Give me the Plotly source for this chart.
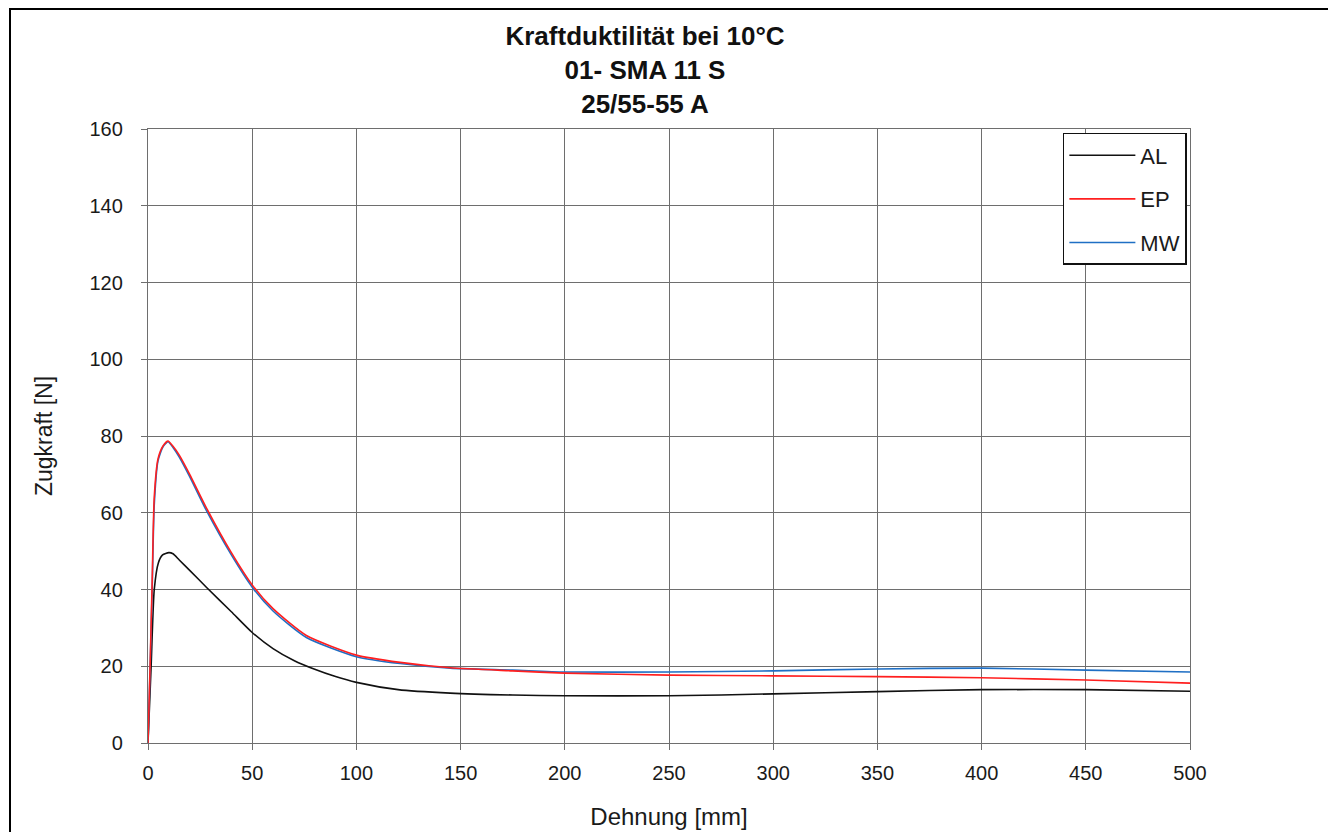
import plotly.graph_objects as go

# Dehnung [mm]
x_al = [0, 1.5, 3, 5, 7, 10, 12, 15, 20, 28, 40, 50, 60, 70, 80, 90, 100, 120, 145, 175, 200, 250, 300, 350, 400, 450, 500]
y_al = [0, 20, 40, 47, 49, 49.6, 49.3, 47.7, 45, 40.6, 34.2, 28.8, 24.6, 21.5, 19.2, 17.3, 15.8, 13.9, 13.0, 12.5, 12.3, 12.3, 12.8, 13.4, 13.9, 13.9, 13.5]

x_up = [0, 1, 2, 3, 4.8, 7.2, 9.6, 12, 15, 20, 28, 40, 50, 60, 76, 100, 121, 145, 175, 200, 250, 300, 350, 400, 450, 500]
y_ep = [0, 20, 42, 64, 74, 77.4, 78.7, 77.3, 75.0, 70.0, 61.3, 49.6, 41.2, 35.0, 28.0, 22.9, 21.0, 19.6, 18.8, 18.2, 17.7, 17.5, 17.3, 17.0, 16.4, 15.6]
y_mw = [0, 19, 40, 62, 73.5, 77.2, 78.5, 77.0, 74.5, 69.4, 60.6, 49.0, 40.6, 34.4, 27.5, 22.5, 20.7, 19.5, 19.0, 18.5, 18.5, 18.8, 19.3, 19.5, 19.0, 18.5]

x_ticks = [0, 50, 100, 150, 200, 250, 300, 350, 400, 450, 500]
y_ticks = [0, 20, 40, 60, 80, 100, 120, 140, 160]

FONT = "Liberation Sans, Arial, sans-serif"
GRID = "#6e6e6e"

fig = go.Figure()
fig.add_trace(go.Scatter(x=x_al, y=y_al, name="AL", mode="lines", legendgroup="a", legendrank=1,
                         line=dict(color="#111111", width=1.6, shape="spline", smoothing=0.6)))
fig.add_trace(go.Scatter(x=x_up, y=y_mw, name="MW", mode="lines", legendgroup="c", legendrank=3,
                         line=dict(color="#1f6fc4", width=1.6, shape="spline", smoothing=0.6)))
fig.add_trace(go.Scatter(x=x_up, y=y_ep, name="EP", mode="lines", legendgroup="b", legendrank=2,
                         line=dict(color="#ff1f1f", width=1.6, shape="spline", smoothing=0.6)))

W, H = 1328, 824
L, T = 140, 121
PW, PH = 1042, 614

fig.update_layout(
    width=W, height=H,
    margin=dict(l=L, r=W - L - PW, t=T, b=H - T - PH),
    paper_bgcolor="white", plot_bgcolor="white",
    font=dict(family=FONT, color="#1a1a1a"),
    title=dict(text="<b>Kraftduktilität bei 10°C<br>01- SMA 11 S<br>25/55-55 A</b>",
               x=0.477, xref="paper", xanchor="center",
               y=1 - 37 / H, yref="container", yanchor="top",
               font=dict(family=FONT, size=26, color="#111111")),
    legend=dict(x=0.997, y=0.9935, xanchor="right", yanchor="top",
                bgcolor="white", bordercolor="#111111", borderwidth=1.5,
                font=dict(family=FONT, size=22, color="#1a1a1a"),
                tracegroupgap=12, traceorder="grouped", itemwidth=66),
    showlegend=True,
)

fig.update_xaxes(range=[0, 500], tickvals=x_ticks, ticktext=[str(v) for v in x_ticks],
                 showgrid=True, gridcolor=GRID, gridwidth=1.4,
                 showline=True, linecolor=GRID, linewidth=1.4, mirror=True,
                 ticks="outside", ticklen=6, tickcolor=GRID, zeroline=False,
                 ticklabelstandoff=6, automargin=False,
                 tickfont=dict(family=FONT, size=20, color="#1a1a1a"),
                 title=dict(text="Dehnung [mm]", font=dict(family=FONT, size=24, color="#1a1a1a"), standoff=24))
fig.update_yaxes(range=[0, 160], tickvals=y_ticks, ticktext=[str(v) for v in y_ticks],
                 showgrid=True, gridcolor=GRID, gridwidth=1.4,
                 showline=True, linecolor=GRID, linewidth=1.4, mirror=True,
                 ticks="outside", ticklen=6, tickcolor=GRID, zeroline=False,
                 ticklabelstandoff=14, automargin=False,
                 tickfont=dict(family=FONT, size=20, color="#1a1a1a"),
                 title=dict(text="Zugkraft [N]", font=dict(family=FONT, size=23, color="#1a1a1a"), standoff=30))

# outer frame of the figure
fig.add_shape(type="rect", xref="paper", yref="paper",
              x0=(10 - 148) / PW, x1=(1331 - 148) / PW,
              y0=(743 - 850) / PH, y1=(743 - 9) / PH,
              line=dict(color="black", width=2), fillcolor="rgba(0,0,0,0)", layer="below")

fig.write_html("out.html")
